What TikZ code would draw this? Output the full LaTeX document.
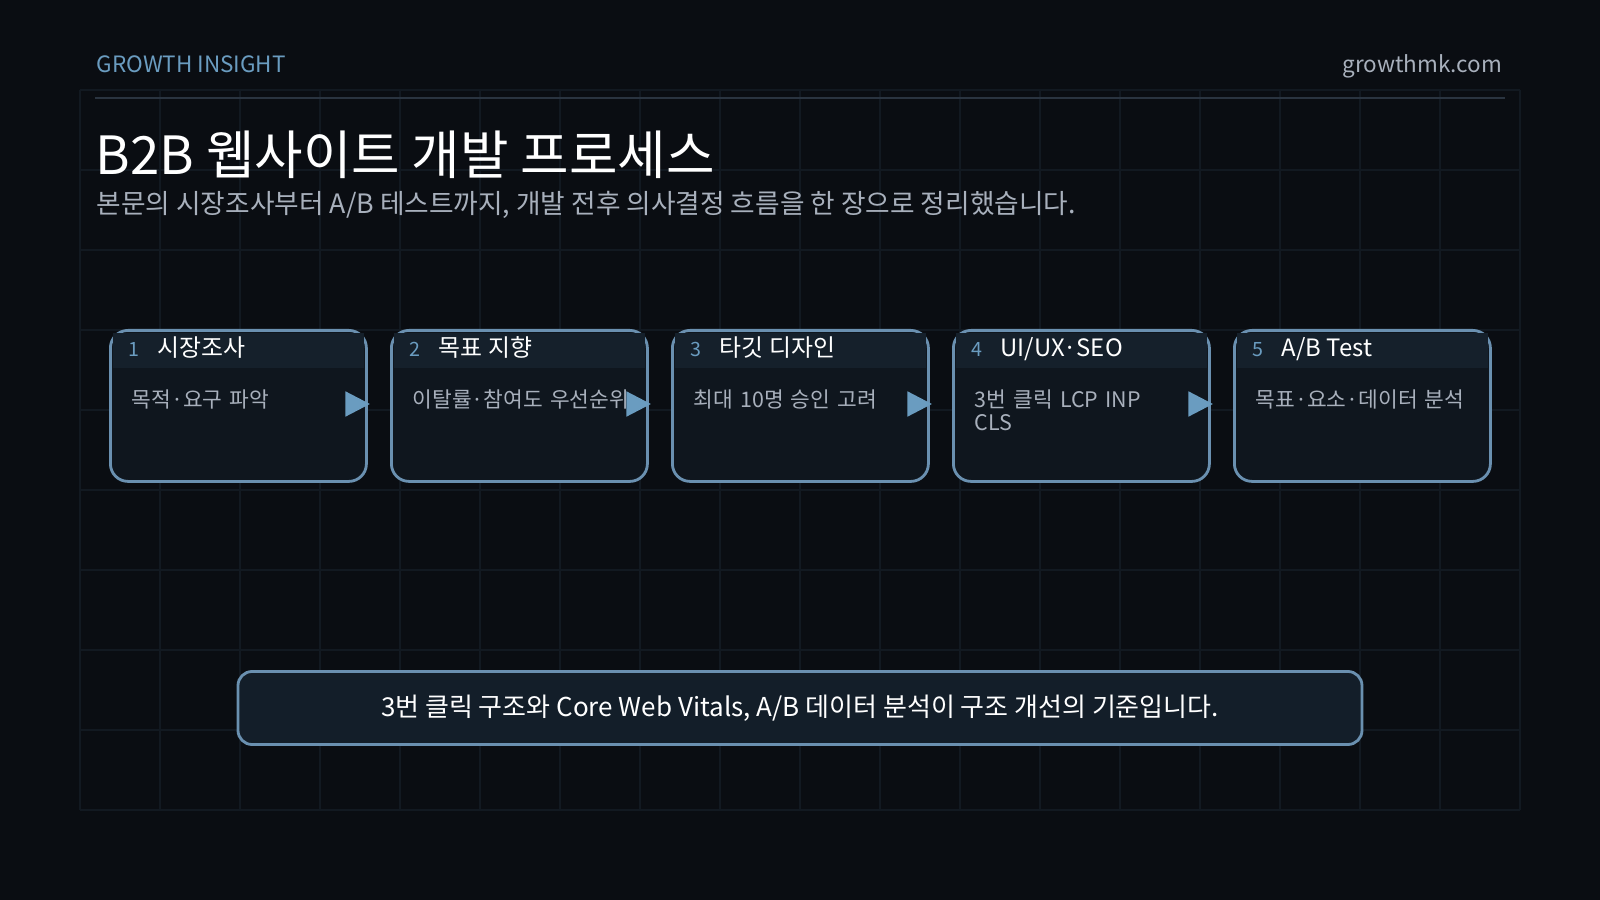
\documentclass[tikz,border=0pt]{standalone}
\usepackage{fontspec}
\setmainfont{Noto Sans CJK KR}
\usetikzlibrary{positioning,arrows.meta}
\definecolor{bgcol}{HTML}{0A0D12}
\definecolor{gridcol}{HTML}{121921}
\definecolor{rulecol}{HTML}{2A3440}
\definecolor{accent}{HTML}{6A9CC0}
\definecolor{edgecol}{HTML}{6A90B0}
\definecolor{headfill}{HTML}{15202B}
\definecolor{bodyfill}{HTML}{0F161E}
\definecolor{notefill}{HTML}{131E29}
\definecolor{subgray}{HTML}{A8B0BC}

\begin{document}
\begin{tikzpicture}[x=0.1mm,y=-0.1mm,
	stepcard/.style={draw=edgecol,line width=0.8pt,fill=bodyfill,rounded corners=5pt,
		minimum width=256*0.1mm,minimum height=151*0.1mm,inner sep=0pt},
	steptext/.style={text=subgray,font=\fontsize{6.1}{6.6}\selectfont,anchor=north west,
		align=left,text width=230*0.1mm,inner sep=0pt},
	flow/.style={accent,line width=0.9pt,-{Triangle[length=7pt,width=7pt]}}
]
	\fill[bgcol] (0,0) rectangle (1600,900);
	% grid
	\foreach \gx in {80,160,...,1520} \draw[gridcol,line width=0.3pt] (\gx,90) -- (\gx,810);
	\foreach \gy in {90,170,...,810} \draw[gridcol,line width=0.3pt] (80,\gy) -- (1520,\gy);
	%% header
	\node[anchor=base west,inner sep=0pt,text=accent,font=\fontsize{6.4}{7}\selectfont] (brand) at (96,73) {GROWTH INSIGHT};
	\node[anchor=base east,inner sep=0pt,text=subgray,font=\fontsize{6.4}{7}\selectfont] (site) at (1503,73) {growthmk.com};
	\draw[rulecol,line width=0.8pt] (95,98) -- (1505,98);
	\node[anchor=base west,inner sep=0pt,text=white,font=\fontsize{15}{17}\selectfont] (title) at (95,175) {B2B 웹사이트 개발 프로세스};
	\node[anchor=base west,inner sep=0pt,text=subgray,font=\fontsize{7.6}{9}\selectfont] (sub) at (96,214) {본문의 시장조사부터 A/B 테스트까지, 개발 전후 의사결정 흐름을 한 장으로 정리했습니다.};
	%% steps
	\foreach \i/\ttl/\txt in {1/시장조사/목적·요구 파악,2/목표 지향/이탈률·참여도 우선순위,3/타깃 디자인/최대 10명 승인 고려,4/{UI/UX·SEO}/{3번 클릭 LCP INP\\CLS},5/{A/B Test}/목표·요소·데이터 분석}{
		\pgfmathsetmacro{\bx}{109+(\i-1)*281}
		\node[stepcard,anchor=north west] (box\i) at (\bx,329) {};
		\fill[headfill] ([xshift=1pt,yshift=-1.2pt]box\i.north west) rectangle ([xshift=-1pt,yshift=-39*0.1mm]box\i.north east);
		\node[anchor=base west,inner sep=0pt,text=accent,font=\fontsize{5.6}{6}\selectfont] (num\i) at (\bx+19,356) {\i};
		\node[anchor=base west,inner sep=0pt,text=white,font=\fontsize{6.8}{7}\selectfont] (ttl\i) at (\bx+48,357) {\ttl};
		\node[steptext] (txt\i) at (\bx+22,389) {\txt};
	}
	% connectors
	\foreach \i [evaluate=\i as \j using int(\i+1)] in {1,...,4}{
		\coordinate (a\i) at ([xshift=-18*0.1mm,yshift=-75*0.1mm]box\i.north east);
		\coordinate (b\i) at ([xshift=-20*0.1mm,yshift=-75*0.1mm]box\j.north west);
		\draw[flow] (a\i) -- (b\i);
	}
	%% note
	\node[draw=edgecol,line width=0.8pt,fill=notefill,rounded corners=4pt,
		minimum width=1124*0.1mm,minimum height=73*0.1mm,text=white,
		font=\fontsize{7.4}{8}\selectfont] (note) at (800,708)
		{3번 클릭 구조와 Core Web Vitals, A/B 데이터 분석이 구조 개선의 기준입니다.};
\end{tikzpicture}
\end{document}
